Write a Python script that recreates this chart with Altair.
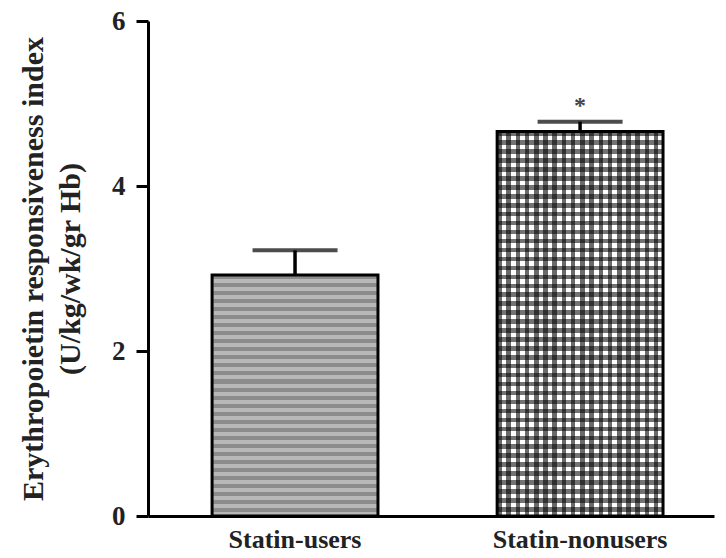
import altair as alt
import pandas as pd

categories = ["Statin-users", "Statin-nonusers"]
means = [2.92, 4.66]
upper = [3.22, 4.78]
marks = ["", "*"]
y_ticks = [0, 2, 4, 6]

df = pd.DataFrame({"group": categories, "mean": means, "upper": upper, "sig": marks})

FONT = "Liberation Serif"


def stripes(c1, c2, n, along_y):
    stops = []
    for i in range(n):
        a, m, b = i / n, (i + 0.5) / n, (i + 1) / n
        stops += [
            alt.GradientStop(color=c1, offset=a),
            alt.GradientStop(color=c1, offset=m),
            alt.GradientStop(color=c2, offset=m),
            alt.GradientStop(color=c2, offset=b),
        ]
    if along_y:
        return alt.LinearGradient(gradient="linear", stops=stops, x1=0, x2=0, y1=0, y2=1)
    return alt.LinearGradient(gradient="linear", stops=stops, x1=0, x2=1, y1=0, y2=0)


x_enc = alt.X(
    "group:N",
    sort=categories,
    scale=alt.Scale(paddingInner=0.418, paddingOuter=0.2018, align=0.557),
    axis=alt.Axis(
        title=None, labelAngle=0, ticks=False, domainWidth=3, domainColor="black",
        labelFont=FONT, labelFontWeight="bold", labelFontSize=26, labelColor="#222",
        labelPadding=10, labelBaseline="top",
    ),
)
y_scale = alt.Scale(domain=[0, 6], nice=False)
y_enc = alt.Y(
    "mean:Q",
    scale=y_scale,
    axis=alt.Axis(
        values=y_ticks, format="d", grid=False, domainWidth=3, domainColor="black",
        tickWidth=3, tickSize=12, tickColor="black",
        labelFont=FONT, labelFontWeight="bold", labelFontSize=27, labelColor="#222",
        labelPadding=11,
        title=["Erythropoietin responsiveness index", "(U/kg/wk/gr Hb)"],
        titleFont=FONT, titleFontWeight="bold", titleFontSize=30, titleColor="#222",
        titlePadding=26, titleLineHeight=37,
    ),
)

base = alt.Chart(df).encode(x=x_enc)

bar_users = base.transform_filter(alt.datum.group == categories[0]).mark_bar(
    fill=stripes("#8c8c8c", "#b8b8b8", 30, True), stroke="black", strokeWidth=3
).encode(y=y_enc)

bar_non_base = base.transform_filter(alt.datum.group == categories[1]).mark_bar(
    fill=stripes("#6a6a6a", "#ffffff", 18, False)
).encode(y=alt.Y("mean:Q", scale=y_scale))

bar_non_over = base.transform_filter(alt.datum.group == categories[1]).mark_bar(
    fill=stripes("rgba(0,0,0,0.55)", "rgba(0,0,0,0)", 43, True), stroke="black", strokeWidth=3
).encode(y=alt.Y("mean:Q", scale=y_scale))

err = base.mark_rule(color="black", strokeWidth=3.5).encode(
    y=alt.Y("mean:Q", scale=y_scale), y2="upper:Q"
)
cap = base.mark_tick(color="black", size=85, thickness=4, orient="horizontal").encode(
    y=alt.Y("upper:Q", scale=y_scale)
)
star = base.mark_text(
    font=FONT, fontSize=24, fontWeight="bold", color="#444", baseline="bottom", dy=-4
).encode(y=alt.Y("upper:Q", scale=y_scale), text="sig:N")

chart = (
    alt.layer(bar_users, bar_non_base, bar_non_over, err, cap, star)
    .properties(
        width=566, height=495,
        autosize=alt.AutoSizeParams(type="none"),
        padding={"left": 140, "top": 13, "right": 4, "bottom": 42},
    )
    .configure_view(stroke=None)
)

chart.save("out.html", embed_options={"renderer": "svg", "actions": False})
